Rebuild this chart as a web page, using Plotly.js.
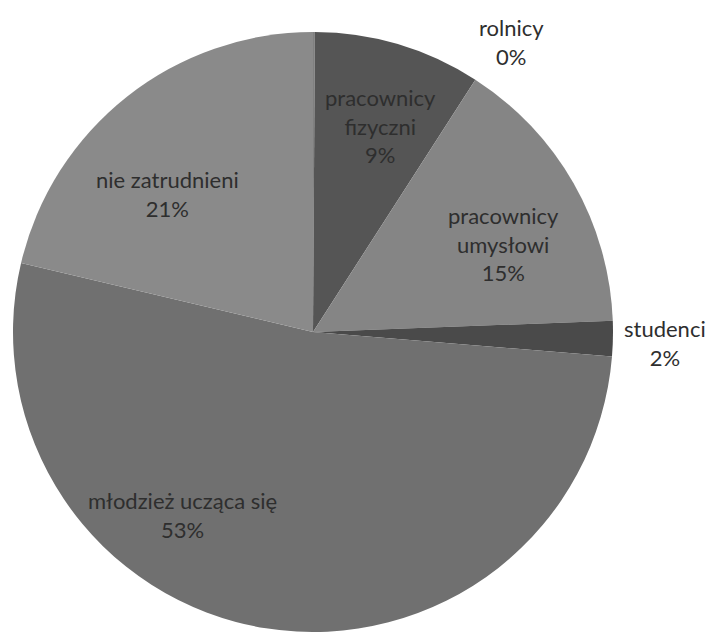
<!DOCTYPE html>
<html>
<head>
<meta charset="utf-8">
<script src="https://cdn.plot.ly/plotly-3.0.1.min.js"></script>
<style>html,body{margin:0;padding:0;background:#fff;}#chart{width:714px;height:632px;}</style>
</head>
<body>
<div id="chart"></div>
<script>
const labels = ["rolnicy", "pracownicy<br>fizyczni", "pracownicy<br>umysłowi", "studenci", "młodzież ucząca się", "nie zatrudnieni"];
const values = [0.1, 9.0, 15.3, 1.9, 52.4, 21.3];
const percentLabels = ["0%", "9%", "15%", "2%", "53%", "21%"];
const colors = ["#808080", "#555555", "#858585", "#4a4a4a", "#707070", "#8a8a8a"];

// label anchor positions (pixels) for the data labels
const labelPos = [[511, 42], [380, 126], [503, 244], [665, 343], [182, 515], [167, 194]];
const W = 714, H = 632;

const annotations = labels.map((l, i) => ({
  x: labelPos[i][0] / W, y: 1 - labelPos[i][1] / H,
  xref: "paper", yref: "paper", showarrow: false,
  text: l + "<br>" + percentLabels[i],
  font: {family: "Lato, 'Open Sans', sans-serif", size: 22, color: "#2e2e2e"},
  xanchor: "center", yanchor: "middle", align: "center"
}));

const trace = {
  type: "pie",
  labels: labels,
  values: values,
  sort: false,
  direction: "clockwise",
  rotation: 0,
  marker: {colors: colors, line: {width: 0}},
  textinfo: "none",
  hoverinfo: "label+percent",
  domain: {x: [13 / W, 613 / W], y: [0, 600 / H]},
  showlegend: false
};

Plotly.newPlot("chart", [trace], {
  width: W, height: H,
  margin: {l: 0, r: 0, t: 0, b: 0},
  paper_bgcolor: "#ffffff",
  annotations: annotations,
  showlegend: false
}, {displayModeBar: false, staticPlot: true});
</script>
</body>
</html>
